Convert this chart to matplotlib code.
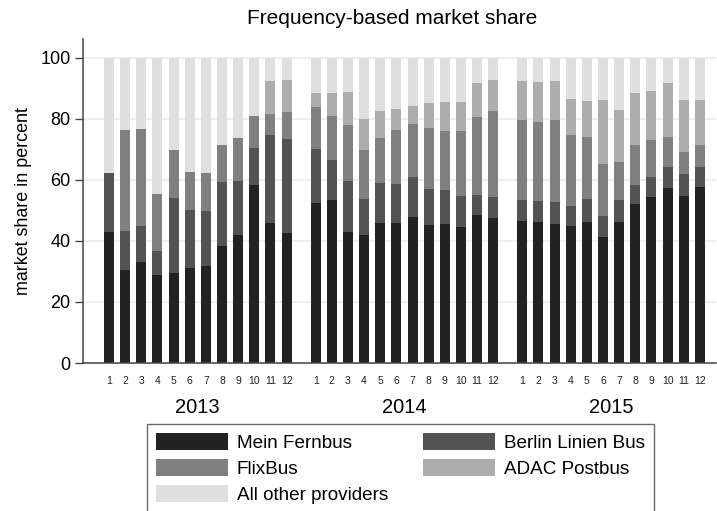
import matplotlib
matplotlib.use('Agg')
import matplotlib.pyplot as plt
import matplotlib.transforms as mtransforms
import numpy as np

plt.rcParams['font.family'] = ['Liberation Sans', 'DejaVu Sans']

years = ['2013', '2014', '2015']
months = list(range(1, 13))
providers = ['Mein Fernbus', 'Berlin Linien Bus', 'FlixBus', 'ADAC Postbus', 'All other providers']
colors = ['#222222', '#535353', '#808080', '#adadad', '#dfdfdf']

# monthly shares in percent, 2013 .. 2015 (36 months)
mein_fernbus = [43.0, 30.4, 33.0, 28.9, 29.5, 31.2, 31.9, 38.3, 41.9, 58.2, 46.0, 42.6,
                52.5, 53.5, 42.8, 41.9, 45.8, 45.8, 47.9, 45.1, 45.6, 44.5, 48.4, 47.6,
                46.5, 46.1, 45.7, 44.8, 46.3, 41.4, 46.3, 52.1, 54.3, 57.2, 54.7, 57.7]
berlin_linien = [19.4, 12.9, 11.9, 7.7, 24.6, 19.0, 17.8, 21.0, 17.9, 12.3, 28.8, 30.8,
                 17.8, 13.2, 17.0, 11.9, 13.1, 12.9, 13.2, 12.0, 11.2, 10.2, 6.7, 6.8,
                 7.0, 7.1, 7.0, 6.8, 7.3, 6.7, 7.2, 6.4, 6.7, 6.9, 7.1, 6.7]
flixbus = [0.0, 33.2, 31.9, 18.7, 15.7, 12.5, 12.7, 12.1, 13.9, 10.6, 6.9, 8.9,
           13.7, 14.1, 18.2, 16.1, 14.7, 17.8, 17.4, 19.8, 19.4, 21.5, 25.5, 28.2,
           26.0, 25.9, 27.0, 23.0, 20.6, 17.2, 12.4, 12.8, 12.1, 10.1, 7.5, 7.2]
adac_postbus = [0.0, 0.0, 0.0, 0.0, 0.0, 0.0, 0.0, 0.0, 0.0, 0.0, 10.6, 10.3,
                4.6, 7.6, 10.9, 10.2, 9.0, 6.6, 5.8, 8.2, 9.2, 9.5, 11.1, 10.0,
                12.8, 13.0, 12.6, 11.8, 11.6, 20.8, 17.0, 17.3, 16.2, 17.5, 17.0, 14.7]
others = list(100 - np.array(mein_fernbus) - np.array(berlin_linien)
              - np.array(flixbus) - np.array(adac_postbus))

series = [mein_fernbus, berlin_linien, flixbus, adac_postbus, others]

stride = 12.8
x = np.array([m + stride*i for i in range(len(years)) for m in months], dtype=float)

fig = plt.figure(figsize=(7.17, 5.11), dpi=100, facecolor='white')
ax = fig.add_axes([0.1158, 0.2896, 0.8828, 0.6341])

bottom = np.zeros(len(x))
bars = []
for vals, c, lab in zip(series, colors, providers):
    b = ax.bar(x, vals, width=0.62, bottom=bottom, color=c, label=lab, zorder=2)
    bars.append(b)
    bottom += np.array(vals)

ax.set_xlim(-0.61, 38.6)
ax.set_ylim(0, 106.2)
ax.set_yticks([0, 20, 40, 60, 80, 100])
ax.yaxis.grid(True, color='#e3ecee', linewidth=1.1, zorder=0)
ax.set_axisbelow(True)
ax.tick_params(axis='y', labelsize=13, length=6, width=1, color='#444444', pad=3)
ax.set_xticks(x)
ax.set_xticklabels([str(m) for m in months]*len(years), fontsize=7.5)
ax.tick_params(axis='x', length=0, pad=9, labelcolor='#222222')

for s in ['top', 'right']:
    ax.spines[s].set_visible(False)
for s in ['left', 'bottom']:
    ax.spines[s].set_color('#444444')
    ax.spines[s].set_linewidth(1.1)

trans = mtransforms.blended_transform_factory(ax.transData, ax.transAxes)
for i, yr in enumerate(years):
    ax.text(6.5 + stride*i, -0.136, yr, transform=trans, ha='center', va='center', fontsize=14.5)

ax.set_ylabel('market share in percent', fontsize=12.9, labelpad=6)
fig.text(0.5474, 0.963, 'Frequency-based market share',
         ha='center', va='center', fontsize=15)

order = [0, 2, 4, 1, 3]
leg = fig.legend([bars[i] for i in order], [providers[i] for i in order],
                 ncol=2, loc='upper left', bbox_to_anchor=(147/717, 1-424/511),
                 fontsize=13.6, frameon=True, fancybox=False, edgecolor='#444444',
                 handlelength=3.8, handleheight=1.0, handletextpad=0.48,
                 columnspacing=1.85, labelspacing=0.375, borderpad=0.48,
                 borderaxespad=0)
leg.get_frame().set_linewidth(1.0)

fig.savefig('out.png', dpi=100, facecolor='white')
